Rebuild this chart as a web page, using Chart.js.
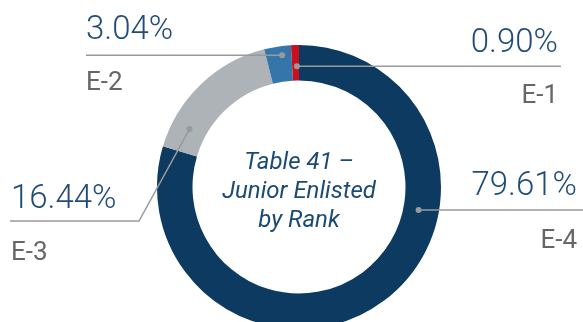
<!DOCTYPE html>
<html>
<head>
<meta charset="utf-8">
<script src="https://cdn.jsdelivr.net/npm/chart.js@4"></script>
<style>
  html, body { margin: 0; padding: 0; background: #fff; overflow: hidden; }
  #wrap { position: relative; width: 583px; height: 340px; }
</style>
</head>
<body>
<div id="wrap"><canvas id="rankChart"></canvas></div>
<script>
// Junior enlisted share by rank
const ranks = ["E-4", "E-3", "E-2", "E-1"];
const shares = [79.61, 16.44, 3.04, 0.90];
const sliceColors = ["#0d3a60", "#adb3b7", "#3476a9", "#c8101f"];
const centerTitle = ["Table 41 \u2013", "Junior Enlisted", "by Rank"];

// where each callout sits: dot (fraction along slice, fraction across ring), text side/anchor
const callouts = [
  { along: 0.352, across: 0.43, side: "right", textX: 577, pctY: 195, rankY: 248, lineEnd: 583 },
  { along: 0.19, across: 0.49, side: "left", textX: 11, pctY: 208, rankY: 260, lineEnd: 10, elbow: [139, 221] },
  { along: 0.63, across: 0.74, side: "left", textX: 86, pctY: 39, rankY: 90, lineEnd: 86 },
  { along: 0.70, across: 0.40, side: "right", textX: 558, pctY: 52, rankY: 103, lineEnd: 561 }
];

const calloutPlugin = {
  id: "callouts",
  afterDraw(chart) {
    const ctx = chart.ctx;
    const arcs = chart.getDatasetMeta(0).data;
    ctx.save();
    arcs.forEach((arc, i) => {
      const c = callouts[i];
      const p = arc.getProps(["x", "y", "startAngle", "endAngle", "innerRadius", "outerRadius"], true);
      const a = p.startAngle + (p.endAngle - p.startAngle) * c.along;
      const r = p.innerRadius + (p.outerRadius - p.innerRadius) * c.across;
      const dx = p.x + r * Math.cos(a);
      const dy = p.y + r * Math.sin(a);

      ctx.strokeStyle = "#9a9a9a";
      ctx.lineWidth = 1.5;
      ctx.beginPath();
      ctx.moveTo(dx, dy);
      if (c.elbow) {
        ctx.lineTo(c.elbow[0], c.elbow[1]);
        ctx.lineTo(c.lineEnd, c.elbow[1]);
      } else {
        ctx.lineTo(c.lineEnd, dy);
      }
      ctx.stroke();

      ctx.fillStyle = "#9a9a9a";
      ctx.beginPath();
      ctx.arc(dx, dy, 3, 0, Math.PI * 2);
      ctx.fill();

      ctx.textAlign = c.side === "right" ? "right" : "left";
      ctx.textBaseline = "alphabetic";
      ctx.fillStyle = "#1f4c78";
      ctx.font = "300 33px Roboto";
      ctx.fillText(shares[i].toFixed(2) + "%", c.textX, c.pctY);
      ctx.fillStyle = "#666666";
      ctx.font = "400 26px Roboto";
      ctx.fillText(ranks[i], c.textX, c.rankY);
    });

    // title inside the hole
    const cx = arcs[0].x;
    ctx.fillStyle = "#1b4a75";
    ctx.font = "italic 400 24px Roboto";
    ctx.textAlign = "center";
    centerTitle.forEach((line, k) => ctx.fillText(line, cx, 169 + k * 29));
    ctx.restore();
  }
};

new Chart(document.getElementById("rankChart"), {
  type: "doughnut",
  data: {
    labels: ranks,
    datasets: [{
      data: shares,
      backgroundColor: sliceColors,
      borderWidth: 0
    }]
  },
  options: {
    responsive: true,
    maintainAspectRatio: false,
    animation: false,
    cutout: "75%",
    layout: { padding: { top: 45, bottom: 11, left: 157, right: 142 } },
    plugins: { legend: { display: false }, tooltip: { enabled: false } },
    events: []
  },
  plugins: [calloutPlugin]
});
</script>
</body>
</html>
